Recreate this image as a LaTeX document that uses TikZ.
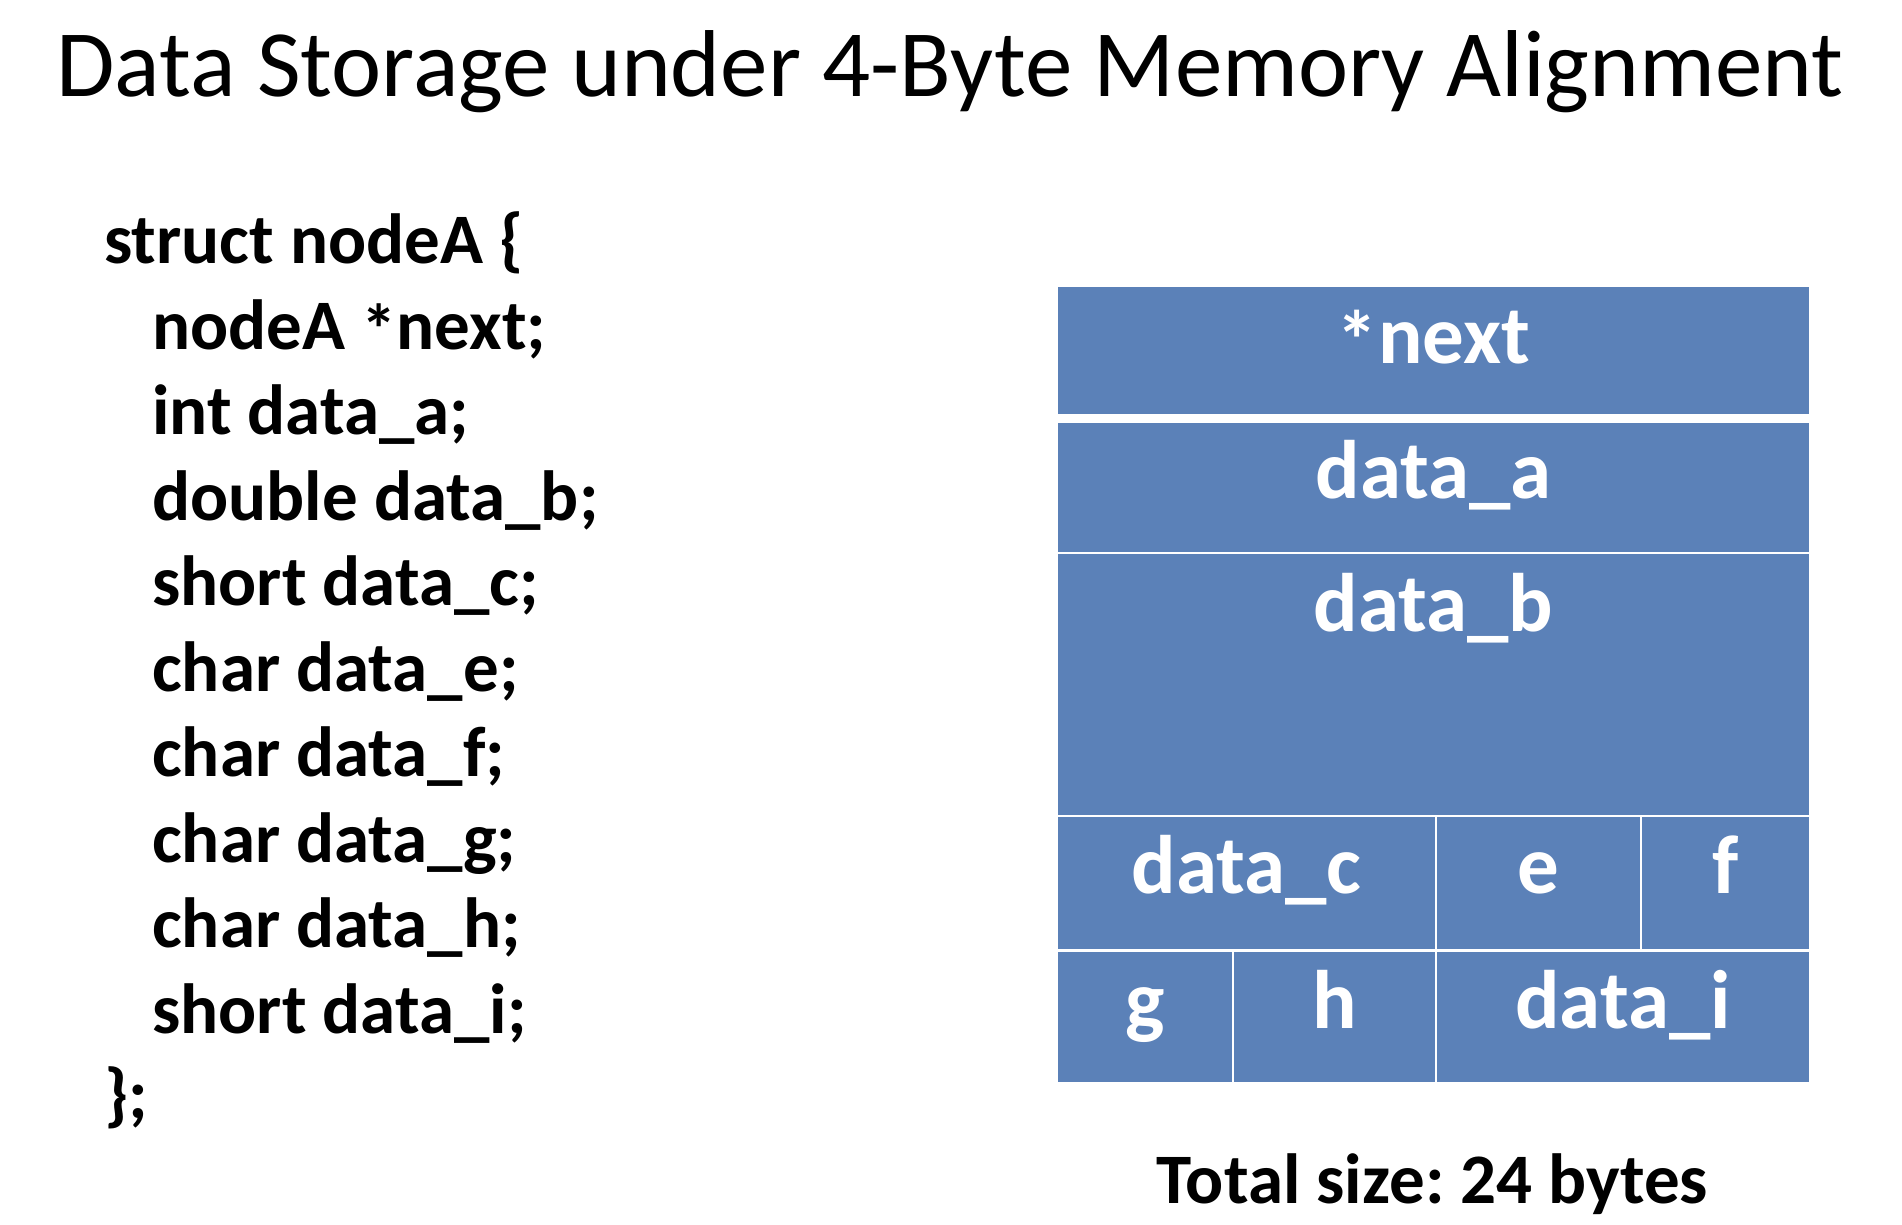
\documentclass[tikz,border=0pt]{standalone}
\usepackage{fontspec}
\setmainfont{Carlito}
\frenchspacing
\definecolor{cellblue}{RGB}{91,129,184}
\newcommand{\lowast}{\raisebox{-0.08em}{*}}
\tikzset{
  code/.style={anchor=base west, inner sep=0pt, font=\bfseries\fontsize{71}{85}\selectfont},
  cell/.style={fill=cellblue},
  lbl/.style={anchor=base, inner sep=0pt, text=white, font=\bfseries\fontsize{83}{100}\selectfont},
}
\begin{document}
\begin{tikzpicture}[x=1pt,y=-1pt]
\useasboundingbox (0,0) rectangle (1902,1224);
% title
\node[anchor=base, inner sep=0pt, font=\fontsize{95}{114}\selectfont] (title) at (950,96) {Data Storage under 4-Byte Memory Alignment};
% code
\node[code] (c0) at (104,263.5) {struct nodeA \{};
\node[code] (c1) at (152,349) {nodeA \lowast next;};
\node[code] (c2) at (152,434.5) {int data\_a;};
\node[code] (c3) at (152,520) {double data\_b;};
\node[code] (c4) at (152,605.5) {short data\_c;};
\node[code] (c5) at (152,691) {char data\_e;};
\node[code] (c6) at (152,776.5) {char data\_f;};
\node[code] (c7) at (152,862) {char data\_g;};
\node[code] (c8) at (152,947.5) {char data\_h;};
\node[code] (c9) at (152,1033) {short data\_i;};
\node[code] (c10) at (104,1118.5) {\};};
% cells
\fill[cell] (1058,287) rectangle (1809,414);
\fill[cell] (1058,423) rectangle (1809,552);
\fill[cell] (1058,554) rectangle (1809,815);
\fill[cell] (1058,817) rectangle (1435,949);
\fill[cell] (1437,817) rectangle (1640,949);
\fill[cell] (1642,817) rectangle (1809,949);
\fill[cell] (1058,952) rectangle (1232,1082);
\fill[cell] (1234,952) rectangle (1435,1082);
\fill[cell] (1437,952) rectangle (1809,1082);
% labels
\node[lbl] (lnext) at (1433.5,363) {\lowast next};
\node[lbl] (la) at (1433.5,498) {data\_a};
\node[lbl] (lb) at (1433.5,631) {data\_b};
\node[lbl] (lc) at (1246.5,893) {data\_c};
\node[lbl] (le) at (1538,893) {e};
\node[lbl] (lf) at (1725.5,893) {f};
\node[lbl] (lg) at (1145,1028) {g};
\node[lbl] (lh) at (1334.5,1028) {h};
\node[lbl] (li) at (1623,1028) {data\_i};
% total
\node[anchor=base, inner sep=0pt, font=\bfseries\fontsize{71}{85}\selectfont] (total) at (1432.5,1203) {Total size: 24 bytes};
\end{tikzpicture}
\end{document}
